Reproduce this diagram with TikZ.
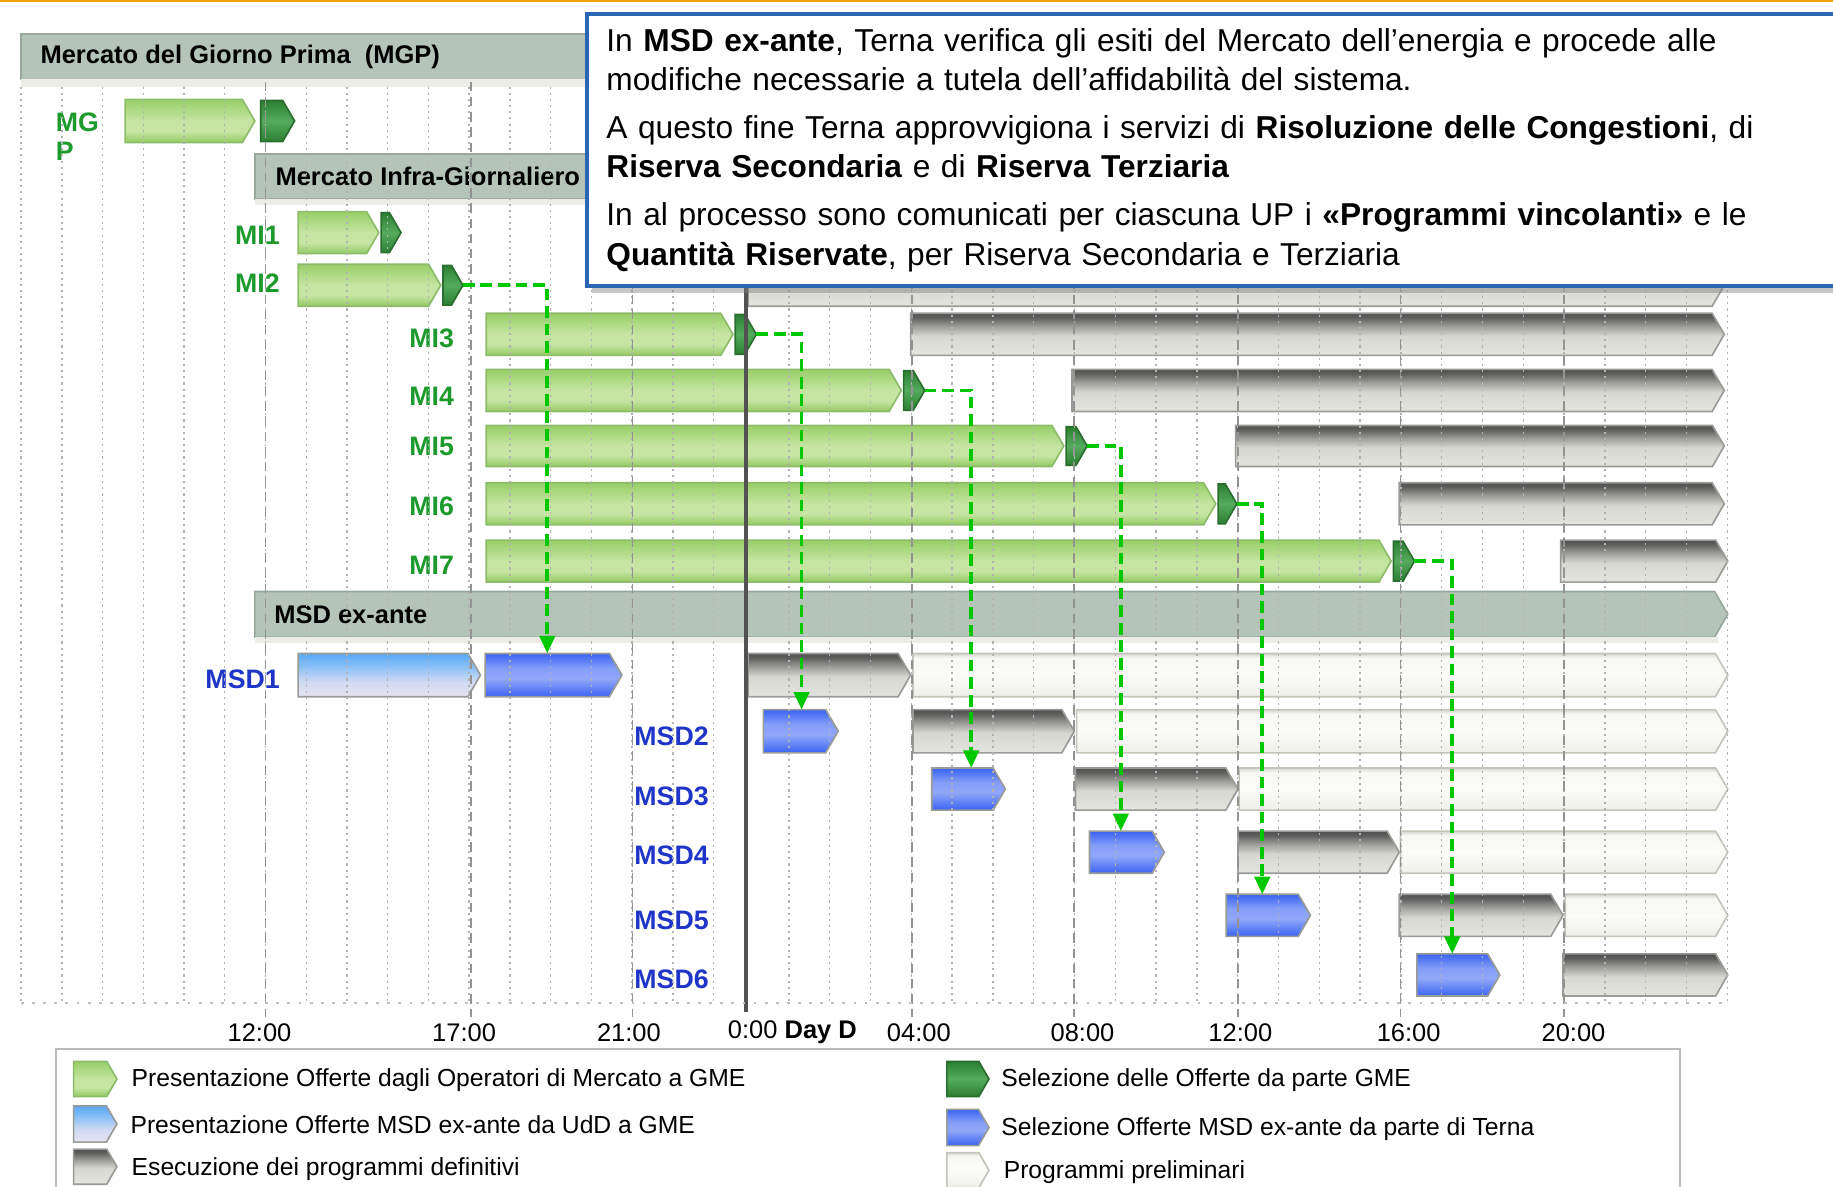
\documentclass[tikz,border=0pt]{standalone}
\usepackage{fontspec}
\setmainfont{Liberation Sans}
\usepackage{tikz}
\usetikzlibrary{calc,arrows.meta,shapes.symbols,shadows}

\definecolor{hdrfill}{HTML}{B5C4B9}
\definecolor{hdrline}{HTML}{98A79C}
\definecolor{hdrstrip}{HTML}{ECEDE6}
\definecolor{offGline}{HTML}{8CBB6A}
\definecolor{selGline}{HTML}{2A6E2E}
\definecolor{barLine}{HTML}{9A9A96}
\definecolor{preLine}{HTML}{C4C4BA}
\definecolor{labG}{HTML}{1D9A2C}
\definecolor{labB}{HTML}{1F35C8}
\definecolor{conG}{HTML}{00C800}
\definecolor{boxBlue}{HTML}{2B66B2}
\definecolor{topOrange}{HTML}{F2A200}
\definecolor{gTop}{HTML}{98CE68}
\definecolor{gBand}{HTML}{C6E5A2}
\definecolor{gLow}{HTML}{93C962}
\definecolor{dgOut}{HTML}{2C7F33}
\definecolor{dgMid}{HTML}{55AA5E}
\definecolor{bOut}{HTML}{3A63F3}
\definecolor{bMid}{HTML}{91A8F9}
\definecolor{lbTop}{HTML}{58A8F6}
\definecolor{lbLow}{HTML}{E6E3F1}
\definecolor{eTop}{HTML}{505050}
\definecolor{eLow}{HTML}{E5E5DF}
\definecolor{pLow}{HTML}{EFEFEA}
\definecolor{pMid}{HTML}{FBFBF8}

\pgfdeclareverticalshading{offshade}{100bp}{color(0bp)=(gLow); color(25bp)=(gLow); color(38bp)=(gBand); color(50bp)=(gBand); color(75bp)=(gTop); color(100bp)=(gTop)}
\pgfdeclareverticalshading{selshade}{100bp}{color(0bp)=(dgOut); color(25bp)=(dgOut); color(50bp)=(dgMid); color(75bp)=(dgOut); color(100bp)=(dgOut)}
\pgfdeclareverticalshading{msdoffshade}{100bp}{color(0bp)=(lbLow); color(25bp)=(lbLow); color(42bp)=(lbLow!85!lbTop); color(62bp)=(lbTop!75!white); color(75bp)=(lbTop); color(100bp)=(lbTop)}
\pgfdeclareverticalshading{msdselshade}{100bp}{color(0bp)=(bOut); color(25bp)=(bOut); color(46bp)=(bMid); color(58bp)=(bMid!85!bOut); color(75bp)=(bOut); color(100bp)=(bOut)}
\pgfdeclareverticalshading{exeshade}{100bp}{color(0bp)=(eLow); color(25bp)=(eLow); color(48bp)=(eLow!94!black); color(60bp)=(eTop!50!eLow); color(70bp)=(eTop!90!eLow); color(75bp)=(eTop); color(100bp)=(eTop)}
\pgfdeclareverticalshading{preshade}{100bp}{color(0bp)=(pLow); color(25bp)=(pLow); color(50bp)=(pMid); color(70bp)=(pMid!70!pLow); color(75bp)=(pLow!90!black); color(100bp)=(pLow!90!black)}

\tikzset{
	ganttbar/.style={signal, signal to=east, signal from=nowhere, signal pointer angle=120, inner sep=0pt, outer sep=0pt, line width=0.4pt},
	offerta/.style={ganttbar, shade, shading=offshade, draw=offGline},
	selezione/.style={ganttbar, shade, shading=selshade, draw=selGline},
	offmsd/.style={ganttbar, shade, shading=msdoffshade, draw=barLine},
	selmsd/.style={ganttbar, shade, shading=msdselshade, draw=barLine},
	esecuzione/.style={ganttbar, shade, shading=exeshade, draw=barLine},
	preliminare/.style={ganttbar, shade, shading=preshade, draw=preLine},
	header/.style={rectangle, fill=hdrfill, draw=hdrline, line width=0.4pt, inner sep=0pt, outer sep=0pt},
	headertip/.style={ganttbar, fill=hdrfill, draw=hdrline},
	hdrtext/.style={anchor=west, font=\fontsize{6.2}{7.5}\selectfont\bfseries, inner sep=0pt},
	milabel/.style={font=\fontsize{6.5}{7.2}\selectfont\bfseries, text=labG, inner sep=0pt},
	msdlabel/.style={font=\fontsize{6.5}{7.2}\selectfont\bfseries, text=labB, inner sep=0pt},
	gridline/.style={draw=gray!60, line width=0.35pt, dash pattern=on 0.5pt off 1pt},
	dayline/.style={draw=gray!85, line width=0.4pt, dash pattern=on 0.08cm off 0.05cm},
	zeroline/.style={draw=black!68, line width=0.9pt},
	axisline/.style={draw=gray!50, line width=0.7pt, dotted},
	conn/.style={draw=conG, line width=0.9pt, dash pattern=on 0.1cm off 0.05cm, -{Triangle[length=0.15cm, width=0.13cm]}},
	asse/.style={font=\fontsize{6.2}{7.4}\selectfont, inner sep=0pt},
	legtext/.style={anchor=west, font=\fontsize{6}{7}\selectfont, inner sep=0pt},
	infobox/.style={draw=boxBlue, line width=1pt, fill=white, anchor=north west, text width=10.66cm, inner xsep=0.17cm, inner ysep=0pt, minimum height=2.33cm, align=left, font=\fontsize{7.7}{9.6}\selectfont, drop shadow={shadow xshift=0.05cm, shadow yshift=-0.06cm, opacity=0.45}}
}

% bar from x1 to x2, between ytop and ybot (pixel units)
\def\gantt(#1)[#2](#3:#4:#5:#6){\node[#2, anchor=west, minimum width={(#4-#3)*0.01cm}, minimum height={(#6-#5)*0.01cm}] (#1) at (#3,{(#5+#6)/2}) {};}

\begin{document}
\begin{tikzpicture}[x=0.01cm, y=-0.01cm]
		%%%%% START %%%%%
		\useasboundingbox (0,0) rectangle (1568,1015);
		\draw[line width=0.02cm, color=topOrange] (0,1) -- (1568,1);
		
		% headers
		\gantt(mgp)[header](18:1475:29:68)
		\fill[hdrstrip] (18,68) rectangle (1475,74);
		\node[hdrtext] (mgptxt) at (34,49) {Mercato del Giorno Prima~ (MGP)};
		\gantt(mi)[header](218:1475:132:170)
		\fill[hdrstrip] (218,170) rectangle (1475,175);
		\node[hdrtext] (mitxt) at (235,151) {Mercato Infra-Giornaliero};
		\gantt(msd)[headertip](218:1478:506:545)
		\fill[hdrstrip] (218,545) rectangle (1470,550);
		\node[hdrtext] (msdtxt) at (234,526) {MSD ex-ante};
		
		% MGP and MI rows
		\gantt(pres0)[offerta](107:218:85:122)
		\gantt(sel0)[selezione](223:252:86:121)
		\gantt(pres1)[offerta](255:324:181:217)
		\gantt(sel1)[selezione](326:343:182:216)
		\gantt(pres2)[offerta](255:377:226:262)
		\gantt(sel2)[selezione](379:396:227:261)
		\gantt(exe2)[esecuzione](640:1475:226:262)
		\gantt(pres3)[offerta](416:627:268:304)
		\gantt(sel3)[selezione](629:647:269:303)
		\gantt(exe3)[esecuzione](779:1475:268:304)
		\gantt(pres4)[offerta](416:771:316:352)
		\gantt(sel4)[selezione](773:791:317:351)
		\gantt(exe4)[esecuzione](917:1475:316:352)
		\gantt(pres5)[offerta](416:910:364:399)
		\gantt(sel5)[selezione](912:930:365:398)
		\gantt(exe5)[esecuzione](1057:1475:364:399)
		\gantt(pres6)[offerta](416:1040:413:449)
		\gantt(sel6)[selezione](1042:1058:414:448)
		\gantt(exe6)[esecuzione](1197:1475:413:449)
		\gantt(pres7)[offerta](416:1190:462:498)
		\gantt(sel7)[selezione](1192:1210:463:497)
		\gantt(exe7)[esecuzione](1335:1478:462:498)
		
		% MSD rows
		\gantt(mpres1)[offmsd](255:411:559:596)
		\gantt(msel1)[selmsd](415:532:559:596)
		\gantt(mexe1)[esecuzione](640:779:559:596)
		\gantt(mpre1)[preliminare](781:1478:559:596)
		\gantt(msel2)[selmsd](653:717:607:644)
		\gantt(mexe2)[esecuzione](781:919:607:644)
		\gantt(mpre2)[preliminare](921:1478:607:644)
		\gantt(msel3)[selmsd](797:860:657:693)
		\gantt(mexe3)[esecuzione](920:1059:657:693)
		\gantt(mpre3)[preliminare](1060:1478:657:693)
		\gantt(msel4)[selmsd](932:996:711:747)
		\gantt(mexe4)[esecuzione](1059:1197:711:747)
		\gantt(mpre4)[preliminare](1198:1478:711:747)
		\gantt(msel5)[selmsd](1049:1121:765:801)
		\gantt(mexe5)[esecuzione](1197:1337:765:801)
		\gantt(mpre5)[preliminare](1339:1478:765:801)
		\gantt(msel6)[selmsd](1212:1283:816:852)
		\gantt(mexe6)[esecuzione](1337:1478:816:852)
		
		% labels
		\node[milabel, align=left, anchor=west] (lmgp) at (47,117) {MG\\P};
		\node[milabel, anchor=east] (lmi1) at (240,201) {MI1};
		\node[milabel, anchor=east] (lmi2) at (240,242) {MI2};
		\node[milabel, anchor=east] (lmi3) at (389,289) {MI3};
		\node[milabel, anchor=east] (lmi4) at (389,339) {MI4};
		\node[milabel, anchor=east] (lmi5) at (389,382) {MI5};
		\node[milabel, anchor=east] (lmi6) at (389,433) {MI6};
		\node[milabel, anchor=east] (lmi7) at (389,484) {MI7};
		\node[msdlabel, anchor=east] (lmsd1) at (240,581) {MSD1};
		\node[msdlabel, anchor=west] (lmsd2) at (542,630) {MSD2};
		\node[msdlabel, anchor=west] (lmsd3) at (542,681) {MSD3};
		\node[msdlabel, anchor=west] (lmsd4) at (542,732) {MSD4};
		\node[msdlabel, anchor=west] (lmsd5) at (542,787) {MSD5};
		\node[msdlabel, anchor=west] (lmsd6) at (542,838) {MSD6};
		
		% grid
		\foreach \k in {0,...,17} \draw[gridline] ({18+34.85*\k},74) -- ({18+34.85*\k},858);
		\foreach \k in {1,...,24} \draw[gridline] ({640+34.9*\k},74) -- ({640+34.9*\k},858);
		\foreach \x in {227,403,541,780,919,1059,1198,1338} \draw[dayline] (\x,70) -- (\x,870);
		\draw[zeroline] (638,170) -- (638,866);
		\draw[axisline] (18,858) -- (1479,858);
		
		% connectors
		\draw[conn] (sel2.east) -| (msel1.north);
		\draw[conn] (sel3.east) -| ([xshift=0.06cm]msel2.north);
		\draw[conn] (sel4.east) -| ([xshift=0.075cm]msel3.north);
		\draw[conn] (sel5.east) -| (msel4.north);
		\draw[conn] (sel6.east) -| (msel5.north);
		\draw[conn] (sel7.east) -| (msel6.north);
		
		% time axis
		\node[asse] (t12a) at (222,883) {12:00};
		\node[asse] (t17) at (397,883) {17:00};
		\node[asse] (t21) at (538,883) {21:00};
		\node[asse, anchor=west] (t00) at (622,883) {0:00 \textbf{Day D}};
		\node[asse] (t04) at (786,883) {04:00};
		\node[asse] (t08) at (926,883) {08:00};
		\node[asse] (t12b) at (1061,883) {12:00};
		\node[asse] (t16) at (1205,883) {16:00};
		\node[asse] (t20) at (1346,883) {20:00};
		
		% legend
		\draw[draw=gray!55, line width=0.5pt] (48,1030) -- (48,897) -- (1437,897) -- (1437,1030);
		\gantt(leg1)[offerta](63:100:908:938)
		\node[legtext] (legt1) at (112,924) {Presentazione Offerte dagli Operatori di Mercato a GME};
		\gantt(leg2)[offmsd](63:100:946:977)
		\node[legtext] (legt2) at (111,962) {Presentazione Offerte MSD ex-ante da UdD a GME};
		\gantt(leg3)[esecuzione](63:100:983:1013)
		\node[legtext] (legt3) at (112,1000) {Esecuzione dei programmi definitivi};
		\gantt(leg4)[selezione](810:846:908:938)
		\node[legtext] (legt4) at (856,924) {Selezione delle Offerte da parte GME};
		\gantt(leg5)[selmsd](810:846:949:980)
		\node[legtext] (legt5) at (856,966) {Selezione Offerte MSD ex-ante da parte di Terna};
		\gantt(leg6)[preliminare](810:846:986:1016)
		\node[legtext] (legt6) at (858,1003) {Programmi preliminari};
		
		% info box
		\node[infobox] (info) at (500,10) {In \textbf{MSD ex-ante}, Terna verifica gli esiti del Mercato dell’energia e procede alle\\
			modifiche necessarie a tutela dell’affidabilità del sistema.\\[0.07cm]
			A questo fine Terna approvvigiona i servizi di \textbf{Risoluzione delle Congestioni}, di\\
			\textbf{Riserva Secondaria} e di \textbf{Riserva Terziaria}\\[0.07cm]
			In al processo sono comunicati per ciascuna UP i \textbf{«Programmi vincolanti»} e le\\
			\textbf{Quantità Riservate}, per Riserva Secondaria e Terziaria};
		
		%%%%% END %%%%%
\end{tikzpicture}
\end{document}
